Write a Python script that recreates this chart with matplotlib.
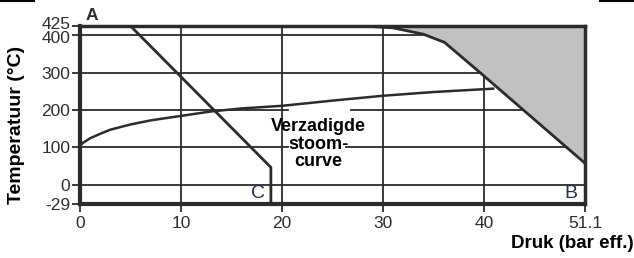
import numpy as np
import matplotlib.pyplot as plt
import matplotlib.transforms as mtransforms
from matplotlib.lines import Line2D

plt.rcParams['font.family'] = ['Liberation Sans', 'DejaVu Sans']

# verzadigde stoomcurve (druk bar eff., temperatuur °C)
sat_p = [0, 0.3, 1, 2, 3, 5, 7, 10, 13, 16, 20, 25, 30, 35, 41]
sat_T = [104, 112, 124, 136, 147, 161, 172, 184, 196, 204, 211, 225, 238, 248, 257]

# lijn A - C
ac_p = [5, 18.9, 18.9]
ac_T = [425, 46, -29]

# grens van het grijze gebied
gr_p = [28, 31, 34, 36.1, 40, 51.1]
gr_T = [425, 420, 403, 381, 291, 57]

x_ticks = [0, 10, 20, 30, 40, 51.1]
x_labels = ['0', '10', '20', '30', '40', '51.1']
y_ticks = [-29, 0, 100, 200, 300, 400, 425]
y_labels = ['-29', '0', '100', '200', '300', '400', '425']

x_grid = [10, 20, 30, 40]
y_grid = [0, 100, 200, 300, 400]

pmin, pmax = 0, 51.1
tmin, tmax = -29, 425

ink = '#2b2b2b'
txt = '#2e2e2e'


def fx(x):
    x = np.asarray(x, dtype=float)
    return np.where(x <= 40, x, 40 + (x - 40) * 10 / 11.1)


def fx_inv(u):
    u = np.asarray(u, dtype=float)
    return np.where(u <= 40, u, 40 + (u - 40) * 11.1 / 10)


def fy(y):
    y = np.asarray(y, dtype=float)
    return np.where(y >= 0, y, y * 1.8)


def fy_inv(v):
    v = np.asarray(v, dtype=float)
    return np.where(v >= 0, v, v / 1.8)


fig = plt.figure(figsize=(6.34, 2.58), dpi=100)
ax = fig.add_axes([80 / 634, 1 - 204 / 258, 505 / 634, 178 / 258])
ax.set_xscale('function', functions=(fx, fx_inv))
ax.set_yscale('function', functions=(fy, fy_inv))
ax.set_xlim(pmin, pmax)
ax.set_ylim(tmin, tmax)

# rasterlijnen
for xv in x_grid:
    ax.plot([xv, xv], [tmin, tmax], color=ink, lw=1.3, zorder=1)
for yv in y_grid:
    if yv in (100, 200):
        # onderbroken bij de tekst
        ax.plot([pmin, 20.6], [yv, yv], color=ink, lw=1.3, zorder=1)
        start = 26.8 if yv == 200 else 26.3
        ax.plot([start, pmax], [yv, yv], color=ink, lw=1.3, zorder=1)
    else:
        ax.plot([pmin, pmax], [yv, yv], color=ink, lw=1.3, zorder=1)

# grijs gebied
ax.fill_between(gr_p + [pmax], gr_T + [tmax], [tmax] * (len(gr_p) + 1),
                color='#c0c1c3', lw=0, zorder=2)
ax.plot(gr_p, gr_T, color=ink, lw=2, zorder=3, solid_joinstyle='round')

ax.plot(ac_p, ac_T, color=ink, lw=2, zorder=3)
ax.plot(sat_p, sat_T, color=ink, lw=1.8, zorder=3)

ax.text(23.6, 108, 'Verzadigde\nstoom-\ncurve', ha='center', va='center',
        fontsize=13, fontweight='bold', color='black', linespacing=1.05, zorder=4)

ax.text(0.6, 432, 'A', fontsize=12.5, fontweight='bold', color=ink, ha='left', va='bottom')
ax.text(50.3, -14, 'B', fontsize=14, color='#26304a', ha='right', va='center')
ax.text(18.3, -14, 'C', fontsize=14, color='#26304a', ha='right', va='center')

ax.set_xticks(x_ticks)
ax.set_xticklabels(x_labels)
ax.set_yticks(y_ticks)
ax.set_yticklabels(y_labels)
ax.minorticks_off()
ax.tick_params(axis='both', direction='out', length=6, width=1.3, color=ink,
               labelsize=12.5, labelcolor=txt)
ax.tick_params(axis='x', pad=3)
ax.tick_params(axis='y', pad=1)

# 425 iets omhoog, 400 iets omlaag
shift_up = mtransforms.ScaledTranslation(0, 3 / 100, fig.dpi_scale_trans)
shift_dn = mtransforms.ScaledTranslation(0, -1.5 / 100, fig.dpi_scale_trans)
ylabs = ax.get_yticklabels()
ylabs[-1].set_transform(ylabs[-1].get_transform() + shift_up)
ylabs[-2].set_transform(ylabs[-2].get_transform() + shift_dn)

for side in ['left', 'bottom']:
    ax.spines[side].set_linewidth(3)
for side in ['top', 'right']:
    ax.spines[side].set_linewidth(2.5)
for s in ax.spines.values():
    s.set_color(ink)
    s.set_zorder(5)

fig.text(17 / 634, 1 - 125 / 258, 'Temperatuur (°C)', rotation=90, ha='center', va='center',
         fontsize=14, fontweight='bold', color='black')
fig.text(1.0, 1 - 244 / 258, 'Druk (bar eff.)', ha='right', va='center',
         fontsize=13.5, fontweight='bold', color='black')

# randjes bovenaan
fig.add_artist(Line2D([0, 34 / 634], [0.997, 0.997], color='black', lw=1.5))
fig.add_artist(Line2D([600 / 634, 1], [0.997, 0.997], color='black', lw=1.5))

fig.savefig('out.png', dpi=100)
